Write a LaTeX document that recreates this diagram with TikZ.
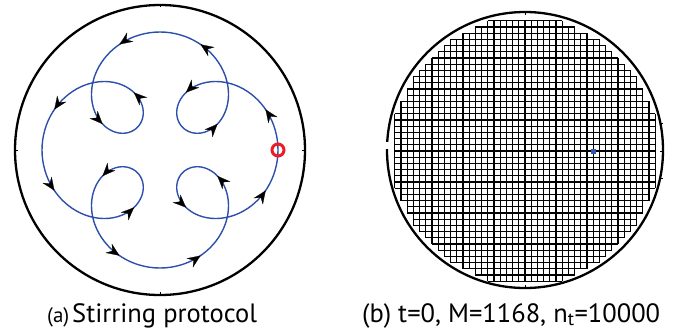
\documentclass[tikz,border=0pt]{standalone}
\usepackage{fontspec}
\setmainfont{PT Sans}
\usetikzlibrary{arrows.meta}
\definecolor{pathblue}{RGB}{45,80,170}
\definecolor{ringred}{RGB}{235,30,40}
\definecolor{dotblue}{RGB}{50,85,180}
\tikzset{
  domainring/.style={draw=black, line width=2.3pt},
  stirpath/.style={draw=pathblue, line width=1.4pt, line join=round},
  arrowmark/.style={draw=black, line width=0.2pt, -{Stealth[length=13pt,width=11pt,inset=4.5pt]}},
  gridline/.style={draw=black, line width=1.2pt},
  tickmark/.style={draw=black, line width=0.6pt},
  caption/.style={font=\fontsize{26.5}{30}\selectfont, inner sep=0pt, anchor=base west},
}
\begin{document}
\begin{tikzpicture}[x=1pt,y=-1pt]
\useasboundingbox (0,0) rectangle (677,333);
\fill[white] (0,0) rectangle (677,333);

% ---------- (a) stirring protocol ----------
\coordinate (ca) at (160,150);
\draw[stirpath] plot[domain=0:360, samples=361]
  ({160+75*cos(\x)+43*cos(5*\x)}, {150-75*sin(\x)-43*sin(5*\x)}) -- cycle;
\foreach \T in {-8.6,8.6,30.7,59.3,81.4,98.6,120.7,149.3,171.4,188.6,210.7,239.3,261.4,278.6,300.7,329.3}{
  \pgfmathsetmacro\px{160+75*cos(\T)+43*cos(5*\T)}
  \pgfmathsetmacro\py{150-75*sin(\T)-43*sin(5*\T)}
  \pgfmathsetmacro\dx{-7.5*sin(\T)-21.5*sin(5*\T)}
  \pgfmathsetmacro\dy{-(7.5*cos(\T)+21.5*cos(5*\T))}
  \pgfmathsetmacro\nn{sqrt(\dx*\dx+\dy*\dy)}
  \draw[arrowmark] ({\px-9*\dx/\nn},{\py-9*\dy/\nn}) -- (\px,\py);
}
\draw[domainring] (ca) circle[radius=145pt];
\draw[tickmark] (160,4) -- (160,7);
\draw[tickmark] (160,295) -- (160,292);
\draw[tickmark] (15,150) -- (18,150);
\draw[tickmark] (305,150) -- (302,150);
\node[draw=ringred, line width=3pt, circle, minimum size=12pt, inner sep=0pt] (ring) at (278,150) {};

% ---------- (b) grid ----------
\coordinate (cb) at (525,150);
\begin{scope}[shift={(525,151)}]
\begin{scope}[x=6.2pt,y=6.2pt]
\foreach \j in {-22,...,21}{
  \pgfmathsetmacro\dm{max(abs(\j),abs(\j+1))}
  \pgfmathsetmacro\hw{21.9*21.9-\dm*\dm}
  \pgfmathtruncatemacro\ok{\hw>0 ? 1 : 0}
  \ifnum\ok=1
    \pgfmathtruncatemacro\k{floor(sqrt(\hw))}
    \draw[gridline] (-\k,\j) grid[step=1] (\k,\j+1);
  \fi
}
\end{scope}
\end{scope}
\fill[dotblue] (590.5,148.5) rectangle (595.5,153.5);
\draw[domainring] (cb) circle[radius=138pt];
\fill[white] (384,142) rectangle (390,149);
\draw[tickmark] (525,12) -- (525,15);
\draw[tickmark] (525,288) -- (525,285);
\foreach \yy in {123,151,178}{
  \draw[tickmark] (663,\yy) -- (660,\yy);
}

% ---------- captions ----------
\node[caption, font=\fontsize{21}{24}\selectfont] (capa) at (47,322) {(a)};
\node[caption] (capb) at (72,322) {Stirring protocol};
\node[caption] (capc) at (362,322) {(b) t=0, M=1168, n\textsubscript{t}=10000};
\end{tikzpicture}
\end{document}
